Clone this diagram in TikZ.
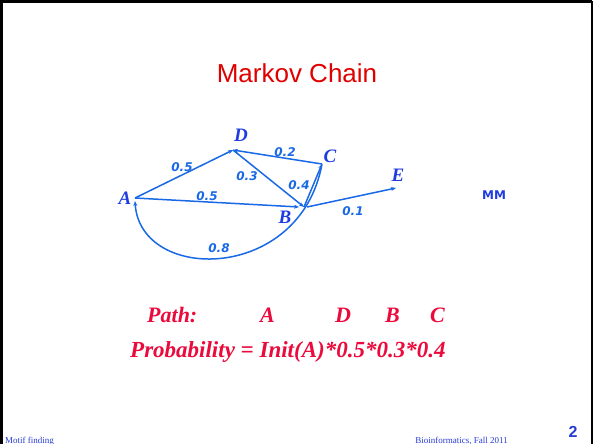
\documentclass[tikz,border=0pt]{standalone}
\usepackage{fontspec}
\setmainfont{Liberation Serif}
\newfontfamily\arialfont{Liberation Sans}
\newfontfamily\numfont{DejaVu Sans}
\usetikzlibrary{arrows.meta,calc,positioning}

\begin{document}
\begin{tikzpicture}[
    x=1pt, y=-1pt,                   % 1 unit = 1 px of the slide, y downwards
    >={Stealth[length=5pt,width=4pt]},
    edge/.style={->,line width=1.5pt,draw=chainblue},
    state/.style={font=\fontsize{19}{19}\selectfont\bfseries\itshape,text=letterblue,inner sep=0pt},
    prob/.style={font=\numfont\fontsize{12}{12}\selectfont\bfseries\itshape,text=chainblue,inner sep=0pt},
    red text/.style={font=\fontsize{22}{22}\selectfont\bfseries\itshape,text=pathred,inner sep=0pt,anchor=base west},
  ]
  \definecolor{chainblue}{RGB}{25,105,230}
  \definecolor{letterblue}{RGB}{30,60,225}
  \definecolor{titlered}{RGB}{225,0,0}
  \definecolor{pathred}{RGB}{235,10,60}
  \definecolor{footblue}{RGB}{40,60,210}

  \useasboundingbox (0,0) rectangle (594,444);
  \fill[white] (0,0) rectangle (594,444);

  %% ---------------- slide frame ----------------
  \draw[line width=3pt] (1.5,444) -- (1.5,1.5) -- (592,1.5);
  \draw[line width=2pt] (592,1.5) -- (592,444);

  %% ---------------- title ----------------
  \node[font=\arialfont\fontsize{26}{26}\selectfont,text=titlered,anchor=base] (title) at (297,82) {Markov Chain};

  %% ---------------- states ----------------
  \coordinate (pA) at (135,198);
  \coordinate (pD) at (233,150);
  \coordinate (pC) at (322,164);
  \coordinate (pB) at (304,207);
  \coordinate (pE) at (396,188);
  \node[state] (A) at (125,198) {A};
  \node[state] (D) at (241,135) {D};
  \node[state] (C) at (330,156) {C};
  \node[state] (B) at (285,217) {B};
  \node[state] (E) at (398,175) {E};

  %% ---------------- transitions ----------------
  \draw[edge] (pA) -- (pD);
  \draw[edge] (pC) -- (pD);
  \draw[edge] (pD) -- (pB);
  \draw[edge] (pB) -- (pC);
  \draw[edge] (pA) -- ($(pB)+(-5,0)$);
  \draw[edge] ($(pB)+(3,0)$) -- (pE);
  \draw[edge] (pC) .. controls (300,283) and (140,283) .. ($(pA)+(0,3)$);

  \node[prob] (pAD) at (182,167) {0.5};
  \node[prob] (pCD) at (285,152) {0.2};
  \node[prob] (pDB) at (247,176) {0.3};
  \node[prob] (pBC) at (299,185) {0.4};
  \node[prob] (pAB) at (207,196) {0.5};
  \node[prob] (pBE) at (353,211) {0.1};
  \node[prob] (pCA) at (219,248) {0.8};

  \node[font=\numfont\fontsize{12}{12}\selectfont\bfseries,text=letterblue] (mm) at (494,195) {MM};

  %% ---------------- path and probability ----------------
  \node[red text] (path) at (147,322) {Path:};
  \foreach \x/\s in {260/A, 335/D, 385/B, 430/C}
    \node[red text] (path\s) at (\x,322) {\s};
  \node[red text,font=\fontsize{23}{23}\selectfont\bfseries\itshape] (prob) at (130,357) {Probability = Init(A)*0.5*0.3*0.4};

  %% ---------------- footer ----------------
  \node[font=\fontsize{9}{9}\selectfont,text=footblue,anchor=base west,inner sep=0pt] (left foot) at (5,443) {Motif finding};
  \node[font=\fontsize{9}{9}\selectfont,text=footblue,anchor=base east,inner sep=0pt] (right foot) at (508,443) {Bioinformatics, Fall 2011};
  \node[font=\arialfont\fontsize{16}{16}\selectfont\bfseries,text=footblue,anchor=base,inner sep=0pt] (page) at (573,437) {2};
\end{tikzpicture}
\end{document}
